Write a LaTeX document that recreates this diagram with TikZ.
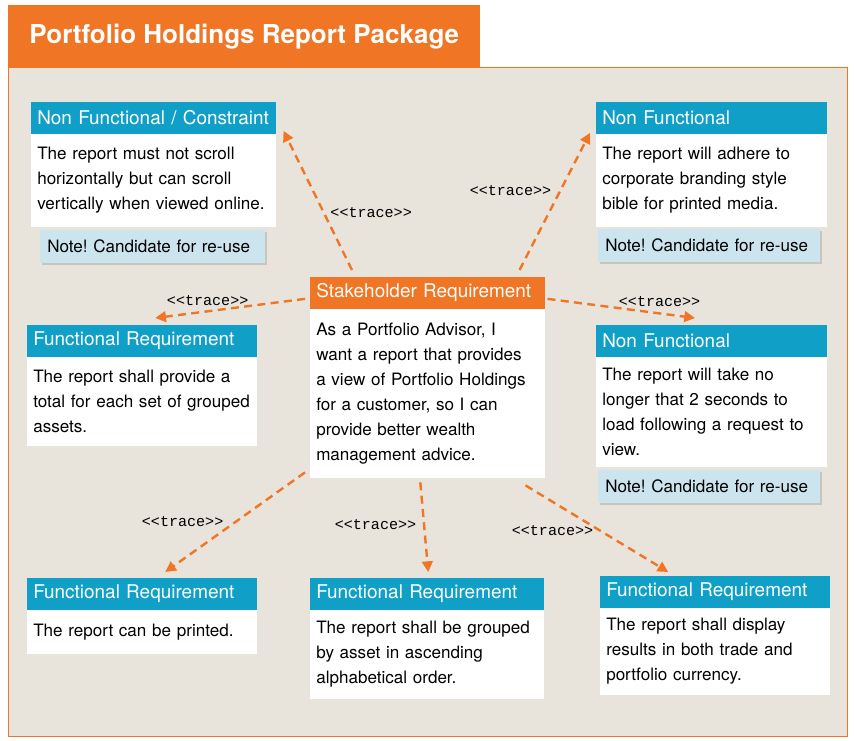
\documentclass[tikz,border=0pt]{standalone}
\usepackage{fontspec}
\setmainfont{TeX Gyre Heros}
\setmonofont{Liberation Mono}
\usetikzlibrary{positioning,arrows.meta,shadows}
\definecolor{pkgorange}{HTML}{F07524}
\definecolor{reqblue}{HTML}{109FC6}
\definecolor{pkgbeige}{HTML}{E8E4DB}
\definecolor{notecyan}{HTML}{CCE4EE}
\tikzset{
  hdr/.style={fill=reqblue, text=white, anchor=north west, inner xsep=4.5pt, minimum height=23.5pt,
    text width=#1, align=left, font=\fontsize{14.2}{16}\selectfont},
  bdy/.style={fill=white, inner xsep=4.5pt, text width=#1, align=left, font=\fontsize{12.8}{18.75}\selectfont},
  note/.style={fill=notecyan, inner xsep=5.25pt, minimum height=25pt, text width=#1, align=left,
    font=\fontsize{12.8}{15}\selectfont, drop shadow={shadow xshift=1.5pt, shadow yshift=-1.5pt, opacity=0.3}},
  trace/.style={pkgorange, line width=1.8pt, dash pattern=on 6pt off 4pt, -{Triangle[length=8pt,width=8pt]}},
  tracelbl/.style={font=\ttfamily\fontsize{11.3}{13}\selectfont, text=black, inner sep=1pt}
}

\begin{document}
\frenchspacing
\begin{tikzpicture}[x=0.75pt, y=-0.75pt]
    \useasboundingbox[fill=white] (0,0) rectangle (854,741);
    % package frame and tab
    \draw[pkgorange, fill=pkgbeige, line width=0.75pt] (8,68) rectangle (847,736);
    \node[fill=pkgorange, text=white, anchor=north west, minimum width=354pt, minimum height=47.25pt,
      font=\bfseries\fontsize{19.5}{22}\selectfont] (tab) at (8,5) {Portfolio Holdings Report Package};

    % stakeholder requirement
    \node[hdr=167.25pt, fill=pkgorange] (sthd) at (310,277) {Stakeholder Requirement};
    \node[bdy=167.25pt, below=0pt of sthd, minimum height=126.75pt] (stbd) {As a Portfolio Advisor, I\\want a report that provides\\a view of Portfolio Holdings\\for a customer, so I can\\provide better wealth\\management advice.};

    % non functional
    \node[hdr=174.75pt] (nfchd) at (31,102) {Non Functional / Constraint};
    \node[bdy=174.75pt, below=0pt of nfchd, minimum height=69.75pt] (nfcbd) {The report must not scroll\\horizontally but can scroll\\vertically when viewed online.};
    \node[note=158.25pt, below right=1.5pt and 6.75pt of nfcbd.south west] (nfcnote) {Note! Candidate for re-use};

    \node[hdr=164.25pt] (nf1hd) at (596,102) {Non Functional};
    \node[bdy=164.25pt, below=0pt of nf1hd, minimum height=69.75pt] (nf1bd) {The report will adhere to\\corporate branding style\\bible for printed media.};
    \node[note=156pt, below right=0.75pt and 1.5pt of nf1bd.south west] (nf1note) {Note! Candidate for re-use};

    \node[hdr=164.25pt] (nf2hd) at (596,325) {Non Functional};
    \node[bdy=164.25pt, below=0pt of nf2hd, minimum height=82.5pt] (nf2bd) {The report will take no\\longer that 2 seconds to\\load following a request to\\view.};
    \node[note=156pt, below right=1.5pt and 1.5pt of nf2bd.south west] (nf2note) {Note! Candidate for re-use};

    % functional
    \node[hdr=163.5pt] (fr1hd) at (27,325) {Functional Requirement};
    \node[bdy=163.5pt, below=0pt of fr1hd, minimum height=66.75pt] (fr1bd) {The report shall provide a\\total for each set of grouped\\assets.};

    \node[hdr=163.5pt] (fr2hd) at (27,578) {Functional Requirement};
    \node[bdy=163.5pt, below=0pt of fr2hd, minimum height=33pt] (fr2bd) {The report can be printed.};

    \node[hdr=166.5pt] (fr3hd) at (310,578) {Functional Requirement};
    \node[bdy=166.5pt, below=0pt of fr3hd, minimum height=66.75pt] (fr3bd) {The report shall be grouped\\by asset in ascending\\alphabetical order.};

    \node[hdr=163.5pt] (fr4hd) at (600,576) {Functional Requirement};
    \node[bdy=163.5pt, below=0pt of fr4hd, minimum height=65.25pt] (fr4bd) {The report shall display\\results in both trade and\\portfolio currency.};

    % trace links
    \draw[trace] ([xshift=31.5pt,yshift=5.25pt]sthd.north west) -- node[tracelbl, pos=0.41, right=3pt] (tr1) {<{}<trace>{}>} ([xshift=5.25pt,yshift=2.25pt]nfchd.south east);
    \draw[trace] ([xshift=-19.5pt,yshift=5.25pt]sthd.north east) -- node[tracelbl, pos=0.58, left=5pt] (tr2) {<{}<trace>{}>} ([xshift=-4.5pt,yshift=0.75pt]nf1hd.south west);
    \draw[trace] ([xshift=-3.75pt,yshift=7.5pt]sthd.south west) -- node[tracelbl, pos=0.65, above=2pt] (tr3) {<{}<trace>{}>} ([xshift=9.75pt,yshift=5.25pt]fr1hd.north);
    \draw[trace] ([xshift=1.5pt,yshift=7.5pt]sthd.south east) -- node[tracelbl, pos=0.76, above=3pt] (tr4) {<{}<trace>{}>} ([xshift=74.25pt,yshift=5.25pt]nf2hd.north west);
    \draw[trace] ([xshift=-3.75pt,yshift=4.5pt]stbd.south west) -- node[tracelbl, pos=0.49, left=8pt] (tr5) {<{}<trace>{}>} ([xshift=17.25pt,yshift=4.5pt]fr2hd.north);
    \draw[trace] ([xshift=-5.6pt,yshift=-3pt]stbd.south) -- node[tracelbl, pos=0.47, left=4pt] (tr6) {<{}<trace>{}>} ([xshift=0.75pt,yshift=4.5pt]fr3hd.north);
    \draw[trace] ([xshift=-15pt,yshift=-5.25pt]stbd.south east) -- node[tracelbl, pos=0.52, left=3pt] (tr7) {<{}<trace>{}>} ([xshift=-35.25pt,yshift=3pt]fr4hd.north);
\end{tikzpicture}
\end{document}
